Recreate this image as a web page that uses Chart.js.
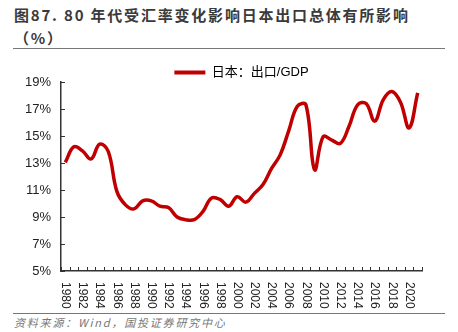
<!DOCTYPE html>
<html>
<head>
<meta charset="utf-8">
<script src="https://cdn.jsdelivr.net/npm/chart.js@4/dist/chart.umd.min.js"></script>
<style>
  html, body { margin: 0; padding: 0; background: #fff; }
  body { width: 458px; height: 332px; position: relative; overflow: hidden; }
  .title {
    position: absolute; left: 14px; top: 3px; width: 444px;
    font-family: "Noto Sans CJK SC", sans-serif; font-weight: bold;
    font-size: 15px; line-height: 23px; color: #3a3a3a; letter-spacing: 1.8px;
  }
  .rule { position: absolute; left: 13px; width: 432px; height: 1px; background: #777; }
  .source {
    position: absolute; left: 14px; top: 314px;
    font-family: "Noto Sans CJK SC", sans-serif; font-style: italic;
    font-size: 11px; color: #777; letter-spacing: 1.8px;
  }
  #wrap { position: absolute; left: 0; top: 50px; width: 458px; height: 262px; }
</style>
</head>
<body>
<div class="title">图87. 80 年代受汇率变化影响日本出口总体有所影响<br>（%）</div>
<div class="rule" style="top:48px"></div>
<div id="wrap"><canvas id="c" width="458" height="262"></canvas></div>
<div class="rule" style="top:313px"></div>
<div class="source">资料来源：Wind，国投证券研究中心</div>

<script>
// Years on the category axis
const years = [];
for (let y = 1980; y <= 2021; y++) years.push(String(y));

// Japan: exports as a share of GDP (%)
const exportsToGdp = [
  13.05, 14.2, 13.9, 13.3, 14.4, 13.85, 10.9, 9.9, 9.6, 10.2,
  10.2, 9.8, 9.7, 9.0, 8.8, 8.8, 9.4, 10.4, 10.3, 9.8,
  10.5, 10.1, 10.75, 11.4, 12.6, 13.6, 15.4, 17.2, 17.3, 12.5,
  14.95, 14.7, 14.45, 15.7, 17.3, 17.4, 16.1, 17.7, 18.3, 17.5,
  15.6, 18.2
];

const seriesLabel = '日本：出口/GDP';
const yTicks = [5, 7, 9, 11, 13, 15, 17, 19];
const LINE_RED = '#C00000';
const AXIS = '#333';

// Inward tick marks plus vertical (clockwise) year labels
const axisDecor = {
  id: 'axisDecor',
  afterDraw(chart) {
    const ctx = chart.ctx;
    const xs = chart.scales.x, ys = chart.scales.y;
    const area = chart.chartArea;
    ctx.save();
    ctx.strokeStyle = AXIS;
    ctx.lineWidth = 1;
    // x tick marks at category boundaries
    const n = years.length;
    const step = (xs.getPixelForValue(1) - xs.getPixelForValue(0));
    ctx.beginPath();
    for (let i = 0; i <= n; i++) {
      const x = Math.round(xs.getPixelForValue(0) - step / 2 + i * step) + 0.5;
      ctx.moveTo(x, area.bottom);
      ctx.lineTo(x, area.bottom - 4);
    }
    // y tick marks
    yTicks.forEach(v => {
      const y = Math.round(ys.getPixelForValue(v)) + 0.5;
      ctx.moveTo(area.left, y);
      ctx.lineTo(area.left + 4, y);
    });
    ctx.stroke();

    // year labels, every second year, reading top to bottom
    ctx.fillStyle = '#222';
    ctx.font = '12px "Liberation Sans", Arial, sans-serif';
    ctx.textAlign = 'left';
    ctx.textBaseline = 'middle';
    years.forEach((lab, i) => {
      if (i % 2 !== 0) return;
      const x = xs.getPixelForValue(i);
      ctx.save();
      ctx.translate(x, area.bottom + 11);
      ctx.rotate(Math.PI / 2);
      ctx.fillText(lab, 0, 0);
      ctx.restore();
    });
    ctx.restore();
  }
};

new Chart(document.getElementById('c'), {
  type: 'line',
  data: {
    labels: years,
    datasets: [{
      label: seriesLabel,
      data: exportsToGdp,
      borderColor: LINE_RED,
      backgroundColor: LINE_RED,
      borderWidth: 3.5,
      tension: 0.4,
      pointRadius: 0,
      fill: false
    }]
  },
  options: {
    responsive: false,
    animation: false,
    devicePixelRatio: 1,
    layout: { padding: { left: 0, right: 36, top: 14, bottom: 0 } },
    plugins: {
      tooltip: { enabled: false },
      legend: {
        display: true,
        position: 'top',
        fullSize: false,
        maxHeight: 18,
        labels: {
          boxWidth: 31,
          boxHeight: 4,
          padding: 2,
          color: '#222',
          font: { size: 13, family: '"Liberation Sans", "Noto Sans CJK SC", sans-serif' },
          generateLabels(chart) {
            return chart.data.datasets.map((ds, i) => ({
              text: ds.label,
              fillStyle: ds.borderColor,
              strokeStyle: ds.borderColor,
              lineWidth: 0,
              datasetIndex: i,
              hidden: false
            }));
          }
        }
      }
    },
    scales: {
      x: {
        type: 'category',
        offset: true,
        grid: { display: false, drawTicks: false },
        border: { display: true, color: AXIS, width: 1.5 },
        ticks: { display: false },
        afterFit(s) { s.height = 41; }
      },
      y: {
        min: 5,
        max: 19,
        grid: { display: false, drawTicks: false },
        border: { display: true, color: AXIS, width: 1.5 },
        ticks: {
          stepSize: 2,
          padding: 10,
          color: '#222',
          font: { size: 13, family: '"Liberation Sans", Arial, sans-serif' },
          callback: v => v + '%'
        },
        afterFit(s) { s.width = 61; }
      }
    }
  },
  plugins: [axisDecor]
});
</script>
</body>
</html>
